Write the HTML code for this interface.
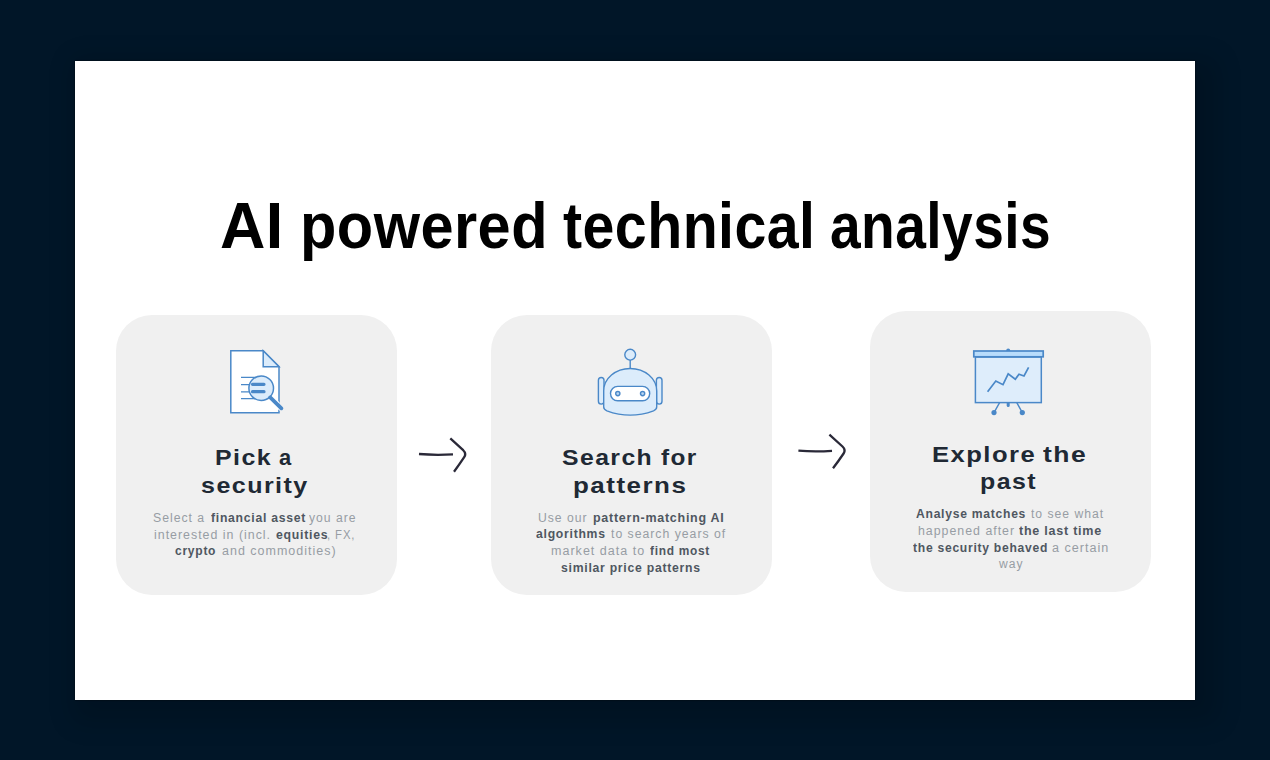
<!DOCTYPE html>
<html><head><meta charset="utf-8"><style>
html,body{margin:0;padding:0;}
body{width:1270px;height:760px;background:#011628;position:relative;overflow:hidden;font-family:"Liberation Sans",sans-serif;}
.sheet{position:absolute;left:75px;top:61px;width:1120px;height:639px;background:#fff;box-shadow:0 0 1.2px rgba(0,0,0,0.9), 10px 10px 24px 12px rgba(0,0,0,0.16);}
.card{position:absolute;background:#f0f0f0;border-radius:36px;}
.ln{position:absolute;white-space:nowrap;transform-origin:0 0;}
.title{font-size:64px;line-height:64px;font-weight:bold;color:#000;letter-spacing:0.5px;}
.head{font-size:22.4px;line-height:22.4px;font-weight:bold;color:#202934;letter-spacing:1.3px;}
.body{font-size:12.5px;line-height:12.5px;color:#979da4;letter-spacing:1.0px;}
.body b{color:#4f5761;font-weight:bold;letter-spacing:0.75px;}
svg{position:absolute;left:0;top:0;}
</style></head><body>
<div class="sheet"></div>
<div class="card" style="left:115.5px;top:314.5px;width:281.5px;height:280.5px"></div>
<div class="card" style="left:491px;top:314.5px;width:281px;height:280.5px"></div>
<div class="card" style="left:870.3px;top:311px;width:281px;height:280.7px"></div>
<div id="title0" class="ln title" style="top:193.62px;left:220.45px;transform:scaleX(0.9810)">AI</div>
<div id="title1" class="ln title" style="top:193.62px;left:299.69px;transform:scaleX(0.9300)">powered</div>
<div id="title2" class="ln title" style="top:193.62px;left:562.91px;transform:scaleX(0.8955)">technical</div>
<div id="title3" class="ln title" style="top:193.62px;left:829.67px;transform:scaleX(0.8616)">analysis</div>
<div id="head0" class="ln head" style="top:447.34px;left:215.06px;transform:scaleX(1.1134)">Pick</div>
<div id="head1" class="ln head" style="top:447.34px;left:278.60px;transform:scaleX(0.9785)">a</div>
<div id="head2" class="ln head" style="top:474.74px;left:200.88px;transform:scaleX(1.1182)">security</div>
<div id="head3" class="ln head" style="top:447.24px;left:562.12px;transform:scaleX(1.1051)">Search</div>
<div id="head4" class="ln head" style="top:447.24px;left:661.41px;transform:scaleX(1.0889)">for</div>
<div id="head5" class="ln head" style="top:474.64px;left:573.25px;transform:scaleX(1.1586)">patterns</div>
<div id="head6" class="ln head" style="top:443.94px;left:931.61px;transform:scaleX(1.1423)">Explore</div>
<div id="head7" class="ln head" style="top:443.94px;left:1042.90px;transform:scaleX(1.1835)">the</div>
<div id="head8" class="ln head" style="top:470.74px;left:980.25px;transform:scaleX(1.1129)">past</div>
<div id="body0" class="ln body" style="top:511.82px;left:153.40px;transform:scaleX(0.9812)">Select a</div>
<div id="body1" class="ln body" style="top:511.82px;left:210.61px;transform:scaleX(0.9760)"><b>financial asset</b></div>
<div id="body2" class="ln body" style="top:511.82px;left:309.38px;transform:scaleX(0.9735)">you are</div>
<div id="body3" class="ln body" style="top:528.52px;left:154.01px;transform:scaleX(0.9923)">interested in (incl.</div>
<div id="body4" class="ln body" style="top:528.52px;left:276.00px;transform:scaleX(0.9819)"><b>equities</b></div>
<div id="body5" class="ln body" style="top:528.52px;left:327.49px;transform:scaleX(0.9054)">, FX,</div>
<div id="body6" class="ln body" style="top:545.02px;left:175.38px;transform:scaleX(0.9652)"><b>crypto</b></div>
<div id="body7" class="ln body" style="top:545.02px;left:221.61px;transform:scaleX(0.9992)">and commodities)</div>
<div id="body8" class="ln body" style="top:512.02px;left:538.42px;transform:scaleX(0.9737)">Use our</div>
<div id="body9" class="ln body" style="top:512.02px;left:592.95px;transform:scaleX(0.9980)"><b>pattern-matching AI</b></div>
<div id="body10" class="ln body" style="top:528.42px;left:536.23px;transform:scaleX(0.9765)"><b>algorithms</b></div>
<div id="body11" class="ln body" style="top:528.42px;left:611.00px;transform:scaleX(0.9813)">to search years of</div>
<div id="body12" class="ln body" style="top:545.22px;left:551.20px;transform:scaleX(1.0033)">market data to</div>
<div id="body13" class="ln body" style="top:545.22px;left:649.63px;transform:scaleX(0.9534)"><b>find most</b></div>
<div id="body14" class="ln body" style="top:562.02px;left:561.43px;transform:scaleX(0.9778)"><b>similar price patterns</b></div>
<div id="body15" class="ln body" style="top:508.32px;left:915.81px;transform:scaleX(0.9709)"><b>Analyse matches</b></div>
<div id="body16" class="ln body" style="top:508.32px;left:1030.80px;transform:scaleX(0.9746)">to see what</div>
<div id="body17" class="ln body" style="top:525.02px;left:918.41px;transform:scaleX(0.9896)">happened after</div>
<div id="body18" class="ln body" style="top:525.02px;left:1019.44px;transform:scaleX(1.0034)"><b>the last time</b></div>
<div id="body19" class="ln body" style="top:541.72px;left:912.61px;transform:scaleX(0.9694)"><b>the security behaved</b></div>
<div id="body20" class="ln body" style="top:541.72px;left:1052.18px;transform:scaleX(1.0076)">a certain</div>
<div id="body21" class="ln body" style="top:558.42px;left:998.58px;transform:scaleX(0.9665)">way</div>
<svg width="1270" height="760" viewBox="0 0 1270 760">
<g stroke="#4a88c8" stroke-width="1.5" stroke-linejoin="miter">
  <!-- icon 1: document + magnifier -->
  <path d="M230.8 350.8 H263.2 L279 366.6 V412.8 H230.8 Z" fill="#fff"/>
  <path d="M263.2 350.8 V366.8 H279 Z" fill="#dcecfb"/>
  <path d="M241 377.4 H256 M241 384.7 H252 M241 391.8 H252 M241 398.7 H256" stroke-width="1.3"/>
  <defs><clipPath id="dc"><rect x="229" y="349" width="50.8" height="65"/></clipPath></defs><path d="M270.2 397.4 L281.4 408.3" stroke="#fff" stroke-width="6" stroke-linecap="round" clip-path="url(#dc)"/>
  <circle cx="261.2" cy="388.2" r="12.3" fill="#dcecfb"/>
  <path d="M252.5 384.3 H264 M252.5 391.7 H264" stroke-width="3.2" stroke-linecap="round"/>
  <path d="M270.2 397.4 L281.4 408.3" stroke-width="3.8" stroke-linecap="round"/>

  <!-- icon 2: robot -->
  <circle cx="630.2" cy="354.7" r="5.4" fill="#dcecfb" stroke-width="1.4"/>
  <path d="M630.2 360.1 V368.6" stroke-width="1.4"/>
  <rect x="598.4" y="377.5" width="5.6" height="26.6" rx="2.8" fill="#dcecfb" stroke-width="1.4"/>
  <rect x="656.4" y="377.5" width="5.6" height="26.6" rx="2.8" fill="#dcecfb" stroke-width="1.4"/>
  <path d="M603.7 407 V391 A26.5 22.5 0 0 1 656.7 391 V407 Q656.7 409.5 653.5 410.8 Q630.2 419.5 606.9 410.8 Q603.7 409.5 603.7 407 Z" fill="#dcecfb" stroke-width="1.4"/>
  <rect x="610.5" y="386.4" width="39.2" height="14.4" rx="7.2" fill="#fff" stroke-width="1.4"/>
  <circle cx="617.8" cy="393.6" r="2.1" fill="#b9d6f2" stroke-width="1.4"/>
  <circle cx="642.6" cy="393.6" r="2.1" fill="#b9d6f2" stroke-width="1.4"/>

  <!-- icon 3: presentation board -->
  <path d="M999.6 402.6 L994 412.6 M1016.8 402.6 L1022.3 412.6" stroke-width="1.4"/>
  <path d="M1008.2 402.6 V405.6" stroke-width="3" stroke-linecap="round"/>
  <circle cx="994" cy="412.6" r="2.6" fill="#4a88c8" stroke="none"/>
  <circle cx="1022.3" cy="412.6" r="2.6" fill="#4a88c8" stroke="none"/>
  <circle cx="1008.2" cy="350.4" r="2" fill="#4a88c8" stroke="none"/>
  <rect x="975.4" y="357" width="65.9" height="45.6" fill="#deedfb" stroke-width="1.5"/>
  <rect x="973.8" y="351" width="69.4" height="5.8" fill="#b8dcfb" stroke-width="1.7"/>
  <polyline points="987.6,391.8 995.8,381 1003,384.7 1008.2,373.9 1015.3,379.2 1019,374.2 1024,376 1028.6,367.4" fill="none" stroke-width="1.7"/>
</g>
<g fill="none" stroke="#2a2938" stroke-width="2.3" stroke-linecap="butt" stroke-linejoin="round">
<path d="M419 454 Q436 455.4 453 454.3"/>
<path d="M450.3 438.4 L463.2 450.2 Q466.6 453.6 464.2 457.2 Q459 465 454 471.8"/>
<path d="M798.4 450.7 Q815 452 832 450.8"/>
<path d="M829.4 434.7 L842.5 446.5 Q846 449.9 843.6 453.5 Q838.2 461.5 833 468.3"/>
</g>
</svg>

</body></html>
